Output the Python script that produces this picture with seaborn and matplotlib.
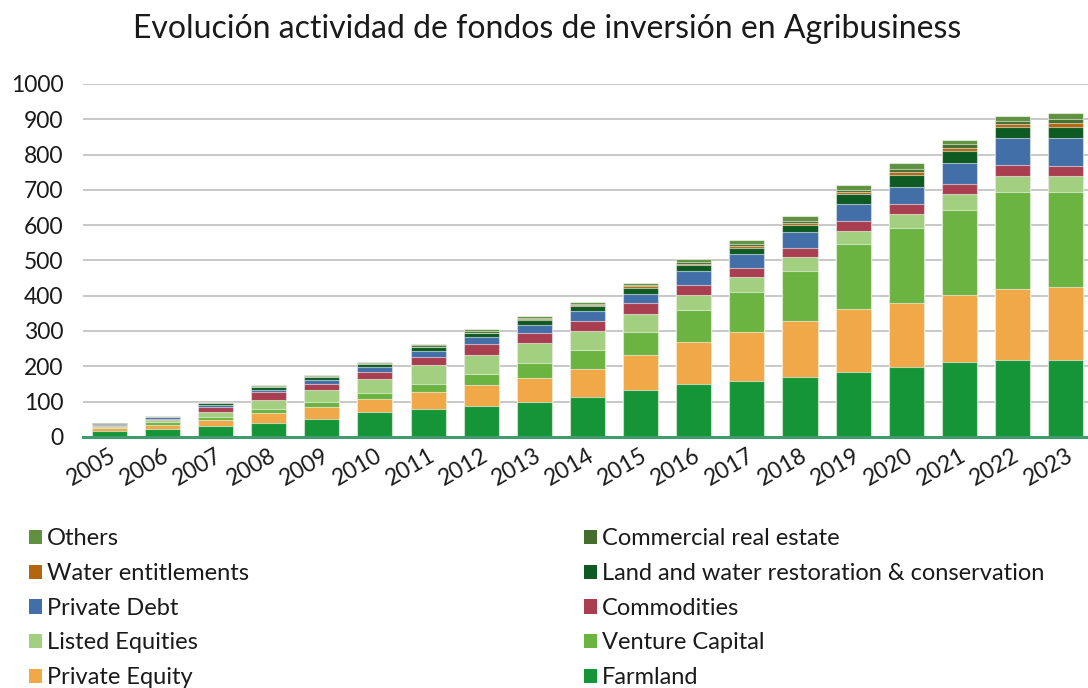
import matplotlib
matplotlib.use("Agg")
import matplotlib.pyplot as plt
from matplotlib.patches import Patch
import pandas as pd
import seaborn as sns

years = [str(y) for y in range(2005, 2024)]

# values per year, bottom of the stack first
farmland = [17, 23, 31, 40, 50, 71, 78, 88, 98, 113, 133, 150, 159, 170, 184, 198, 211, 217, 218]
private_equity = [9, 10, 17, 27, 34, 35, 49, 58, 70, 80, 100, 119, 138, 158, 177, 181, 190, 202, 206]
venture_capital = [2, 9, 9, 11, 14, 17, 23, 32, 41, 53, 63, 90, 113, 143, 186, 213, 243, 276, 269]
listed_equities = [3, 5, 14, 27, 35, 41, 53, 53, 56, 54, 52, 43, 42, 38, 36, 40, 44, 45, 45]
commodities = [4, 4, 13, 21, 18, 21, 23, 32, 29, 28, 31, 29, 27, 27, 28, 28, 29, 29, 29]
private_debt = [2, 4, 7, 8, 11, 13, 16, 19, 22, 28, 27, 38, 38, 44, 49, 49, 60, 79, 79]
land_water = [1, 1, 4, 8, 8, 8, 13, 12, 15, 16, 16, 18, 19, 20, 28, 32, 34, 30, 31]
water_entitlements = [0.5, 0.5, 0.5, 0.5, 0.5, 0.5, 1, 1, 2, 3, 5, 4, 6, 7, 5, 9, 7, 8, 12]
commercial_re = [0.5, 1, 1, 1, 1.5, 1.5, 3, 4, 4, 2, 3, 4, 5, 6, 7, 8, 11, 8, 11]
others = [1, 2.5, 2.5, 2.5, 3, 3, 3, 6, 5, 5, 6, 8, 10, 12, 13, 17, 13, 15, 19]

categories = ["Farmland", "Private Equity", "Venture Capital", "Listed Equities",
              "Commodities", "Private Debt",
              "Land and water restoration & conservation", "Water entitlements",
              "Commercial real estate", "Others"]

colors = {
    "Farmland": "#169538",
    "Private Equity": "#f0a848",
    "Venture Capital": "#6cb442",
    "Listed Equities": "#a3cf80",
    "Commodities": "#a83e50",
    "Private Debt": "#426fa8",
    "Land and water restoration & conservation": "#0d5a22",
    "Water entitlements": "#b5650d",
    "Commercial real estate": "#456e2e",
    "Others": "#5f9140",
}

df = pd.DataFrame(
    dict(zip(categories, [farmland, private_equity, venture_capital, listed_equities,
                          commodities, private_debt, land_water, water_entitlements,
                          commercial_re, others])),
    index=years,
)
cum = df.cumsum(axis=1)

sns.set_style("white")
plt.rcParams["font.family"] = ["Lato", "DejaVu Sans"]
plt.rcParams["text.color"] = "#1a1a1a"

fig, ax = plt.subplots(figsize=(10.88, 6.88), dpi=100)
fig.subplots_adjust(left=0.076, right=1.0, bottom=0.365, top=0.878)

# draw cumulative totals from the top layer down so they read as a stack
for name in reversed(categories):
    sns.barplot(x=years, y=cum[name].values, color=colors[name], saturation=1,
                width=0.66, errorbar=None, edgecolor=(1, 1, 1, 0.55),
                linewidth=0.8, ax=ax, zorder=2)

ax.set_ylim(0, 1000)
ax.set_xlim(-0.5, 18.42)
ax.set_yticks(range(0, 1001, 100))
ax.yaxis.grid(True, color="#c8c8c8", lw=1.4)
ax.set_axisbelow(True)
for s in ["left", "right", "top"]:
    ax.spines[s].set_visible(False)
ax.spines["bottom"].set_color("#3f9c6c")
ax.spines["bottom"].set_linewidth(2.2)
ax.spines["bottom"].set_zorder(3)
ax.tick_params(length=0, labelsize=16.5, labelcolor="#1a1a1a")
ax.tick_params(axis="y", pad=14)
ax.tick_params(axis="x", pad=6)
plt.setp(ax.get_xticklabels(), rotation=30, ha="right", rotation_mode="anchor")
ax.set_xlabel("")
ax.set_ylabel("")

fig.text(0.503, 0.958, "Evolución actividad de fondos de inversión en Agribusiness",
         ha="center", va="center", fontsize=23, color="#1a1a1a")

order = list(reversed(categories))
col_major = order[0::2] + order[1::2]
handles = [Patch(facecolor=colors[n], edgecolor="none") for n in col_major]
fig.legend(handles, col_major, loc="upper left", bbox_to_anchor=(0.027, 0.232),
           ncol=2, frameon=False, handlelength=0.55, handleheight=0.55,
           handletextpad=0.2, columnspacing=14.2, labelspacing=0.58,
           borderaxespad=0, borderpad=0, prop={"size": 17})

fig.savefig("out.png", dpi=100)
